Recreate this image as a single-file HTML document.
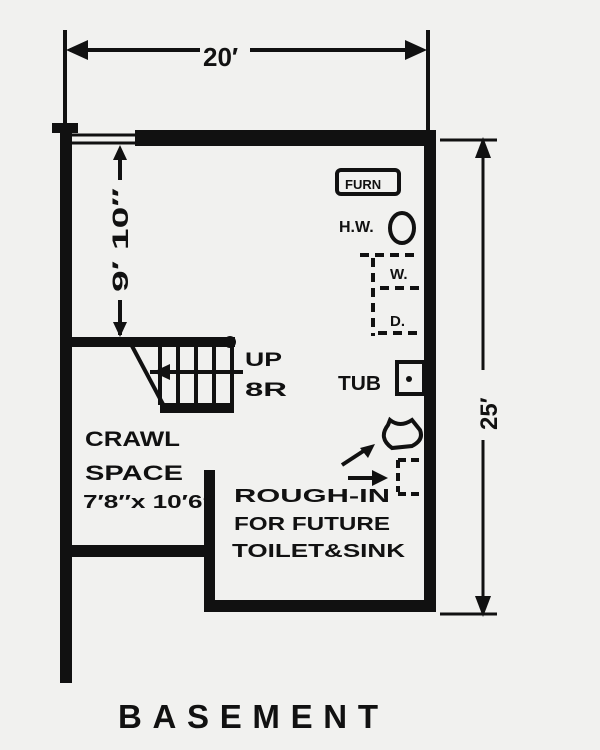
<!DOCTYPE html>
<html><head><style>
html,body{margin:0;padding:0;background:#f1f1ef;}
svg{display:block}
text{font-family:"Liberation Sans",sans-serif;font-weight:bold;fill:#111}
</style></head><body>
<svg width="600" height="750" viewBox="0 0 600 750" xmlns="http://www.w3.org/2000/svg">
<rect width="600" height="750" fill="#f1f1ef"/>
<g fill="#111">
<rect x="60" y="125" width="12" height="558"/>
<rect x="52" y="123" width="26" height="10"/>
<rect x="135" y="130" width="301" height="16"/>
<rect x="424" y="130" width="12" height="482"/>
<rect x="205" y="600" width="231" height="12"/>
<rect x="204" y="470" width="11" height="142"/>
<rect x="72" y="545" width="140" height="12"/>
<rect x="72" y="337" width="163" height="10"/>
<circle cx="230" cy="342" r="6"/>
<rect x="160" y="403" width="74" height="10"/>
</g>
<g stroke="#111" fill="none">
<line x1="72" y1="135" x2="136" y2="135" stroke-width="3"/>
<line x1="72" y1="143" x2="136" y2="143" stroke-width="3"/>
<line x1="132" y1="346" x2="165" y2="408" stroke-width="4"/>
<line x1="160" y1="347" x2="160" y2="405" stroke-width="4"/>
<line x1="178" y1="347" x2="178" y2="405" stroke-width="4"/>
<line x1="196" y1="347" x2="196" y2="405" stroke-width="4"/>
<line x1="214" y1="347" x2="214" y2="405" stroke-width="4"/>
<line x1="232" y1="347" x2="232" y2="405" stroke-width="4"/>
<line x1="150" y1="372" x2="243" y2="372" stroke-width="4"/>
<line x1="65" y1="30" x2="65" y2="125" stroke-width="4"/>
<line x1="428" y1="30" x2="428" y2="130" stroke-width="4"/>
<line x1="70" y1="50" x2="200" y2="50" stroke-width="4"/>
<line x1="250" y1="50" x2="422" y2="50" stroke-width="4"/>
<line x1="440" y1="140" x2="497" y2="140" stroke-width="3"/>
<line x1="440" y1="614" x2="497" y2="614" stroke-width="3"/>
<line x1="483" y1="145" x2="483" y2="370" stroke-width="3"/>
<line x1="483" y1="440" x2="483" y2="608" stroke-width="3"/>
<line x1="120" y1="150" x2="120" y2="180" stroke-width="4"/>
<line x1="120" y1="300" x2="120" y2="335" stroke-width="4"/>
<rect x="337" y="170" width="62" height="24" rx="4" stroke-width="4"/>
<ellipse cx="402" cy="228" rx="12" ry="15" stroke-width="4"/>
<path d="M360 255 H420 M373 258 V336 M380 288 H420 M378 333 H420" stroke-width="4" stroke-dasharray="9 6"/>
<rect x="397" y="362" width="27" height="32" stroke-width="4"/>
<path d="M388 425 Q378 438 392 448 L412 446 Q424 440 420 430 L412 420 Q400 428 390 420 Z" stroke-width="4"/>
<path d="M398 460 V492 M398 460 H424 M398 494 H424" stroke-width="4" stroke-dasharray="8 5"/>
<line x1="342" y1="465" x2="365" y2="450" stroke-width="4"/>
<line x1="348" y1="478" x2="375" y2="478" stroke-width="4"/>
</g>
<g fill="#111">
<polygon points="66,50 88,40 88,60"/>
<polygon points="427,50 405,40 405,60"/>
<polygon points="483,137 475,158 491,158"/>
<polygon points="483,617 475,596 491,596"/>
<polygon points="120,145 113,160 127,160"/>
<polygon points="120,337 113,322 127,322"/>
<polygon points="153,372 170,364 170,380"/>
<polygon points="375,444 360,448 368,458"/>
<polygon points="388,478 372,470 372,486"/>
<circle cx="409" cy="379" r="3"/>
</g>
<text x="203" y="66" font-size="26">20′</text>
<text transform="translate(497,430) rotate(-90)" font-size="24">25′</text>
<text transform="translate(128,292) rotate(-90)" font-size="22" textLength="104" lengthAdjust="spacingAndGlyphs">9′ 10″</text>
<text x="345" y="189" font-size="13">FURN</text>
<text x="339" y="232" font-size="16">H.W.</text>
<text x="390" y="279" font-size="15">W.</text>
<text x="390" y="326" font-size="15">D.</text>
<text x="338" y="390" font-size="20" textLength="43" lengthAdjust="spacingAndGlyphs">TUB</text>
<text x="245" y="366" font-size="19" textLength="37" lengthAdjust="spacingAndGlyphs">UP</text>
<text x="245" y="396" font-size="19" textLength="42" lengthAdjust="spacingAndGlyphs">8R</text>
<text x="85" y="446" font-size="21" textLength="95" lengthAdjust="spacingAndGlyphs">CRAWL</text>
<text x="85" y="480" font-size="21" textLength="98" lengthAdjust="spacingAndGlyphs">SPACE</text>
<text x="83" y="508" font-size="18" textLength="132" lengthAdjust="spacingAndGlyphs">7′8″x 10′6″</text>
<text x="234" y="502" font-size="18" textLength="156" lengthAdjust="spacingAndGlyphs">ROUGH-IN</text>
<text x="234" y="530" font-size="18" textLength="156" lengthAdjust="spacingAndGlyphs">FOR FUTURE</text>
<text x="232" y="557" font-size="18" textLength="173" lengthAdjust="spacingAndGlyphs">TOILET&amp;SINK</text>
<text x="118" y="728" font-size="33" font-weight="normal" textLength="260" lengthAdjust="spacing">BASEMENT</text>
</svg>
</body></html>
